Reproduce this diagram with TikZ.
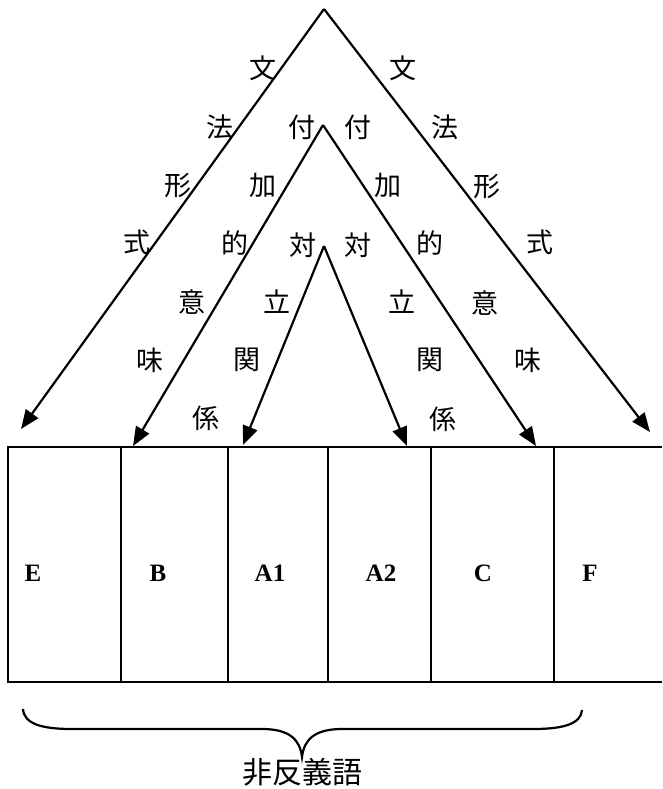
\documentclass[tikz,border=0pt]{standalone}
\usepackage{fontspec}
\setmainfont{Liberation Serif}
\newfontfamily\jpfont{Noto Sans CJK JP}
\usetikzlibrary{arrows.meta}

\begin{document}
\begin{tikzpicture}[x=1pt,y=-1pt,
  arr/.style={line width=2.2pt, -{Triangle[length=19pt,width=15pt]}},
  rule/.style={line width=1.7pt},
  kanji/.style={font=\jpfont\fontsize{27}{27}\selectfont, inner sep=0pt},
  cell/.style={font=\bfseries\fontsize{25}{25}\selectfont, inner sep=0pt},
]
\useasboundingbox (0,0) rectangle (662,789);

% apexes and arrow ends
\coordinate (apexO) at (324,9);
\coordinate (apexM) at (323,125);
\coordinate (apexI) at (324,246);
\coordinate (tipE)  at (21,429);
\coordinate (tipB)  at (133,446);
\coordinate (tipA1) at (243,445);
\coordinate (tipA2) at (407,446);
\coordinate (tipC)  at (536,446);
\coordinate (tipF)  at (650,432);

% arrows
\draw[arr] (apexO) -- (tipE);
\draw[arr] (apexO) -- (tipF);
\draw[arr] (apexM) -- (tipB);
\draw[arr] (apexM) -- (tipC);
\draw[arr] (apexI) -- (tipA1);
\draw[arr] (apexI) -- (tipA2);

% row of cells (open on the right)
\draw[rule] (662,447) -- (8,447) -- (8,682) -- (662,682);
\foreach \x in {121,228,328,431,554}
  \draw[rule] (\x,447) -- (\x,682);

\node[cell] (cE)  at (33,573)  {E};
\node[cell] (cB)  at (158,573) {B};
\node[cell] (cA1) at (270,573) {A1};
\node[cell] (cA2) at (381,573) {A2};
\node[cell] (cC)  at (483,573) {C};
\node[cell] (cF)  at (590,573) {F};

% left side labels
\node[kanji] (l1)  at (263,68)  {文};
\node[kanji] (l2)  at (220,127) {法};
\node[kanji] (l3)  at (178,186) {形};
\node[kanji] (l4)  at (137,242) {式};
\node[kanji] (l5)  at (192,302) {意};
\node[kanji] (l6)  at (150,360) {味};
\node[kanji] (l7)  at (302,127) {付};
\node[kanji] (l8)  at (263,185) {加};
\node[kanji] (l9)  at (235,243) {的};
\node[kanji] (l10) at (303,245) {対};
\node[kanji] (l11) at (277,302) {立};
\node[kanji] (l12) at (247,360) {関};
\node[kanji] (l13) at (206,418) {係};

% right side labels
\node[kanji] (r1)  at (403,68)  {文};
\node[kanji] (r2)  at (445,127) {法};
\node[kanji] (r3)  at (487,187) {形};
\node[kanji] (r4)  at (540,242) {式};
\node[kanji] (r5)  at (485,303) {意};
\node[kanji] (r6)  at (528,360) {味};
\node[kanji] (r7)  at (358,127) {付};
\node[kanji] (r8)  at (388,185) {加};
\node[kanji] (r9)  at (430,243) {的};
\node[kanji] (r10) at (358,245) {対};
\node[kanji] (r11) at (402,302) {立};
\node[kanji] (r12) at (430,360) {関};
\node[kanji] (r13) at (443,419) {係};

% brace under the row
\draw[line width=2.2pt]
  (23,709) .. controls (24,724) and (42,729) .. (72,729)
  -- (262,729) .. controls (290,729) and (300,740) .. (302,757)
  .. controls (304,740) and (314,729) .. (342,729)
  -- (533,729) .. controls (563,729) and (581,724) .. (582,710);
\node[kanji, font=\jpfont\fontsize{30}{30}\selectfont] (brlabel) at (302,772) {非反義語};

\end{tikzpicture}
\end{document}
